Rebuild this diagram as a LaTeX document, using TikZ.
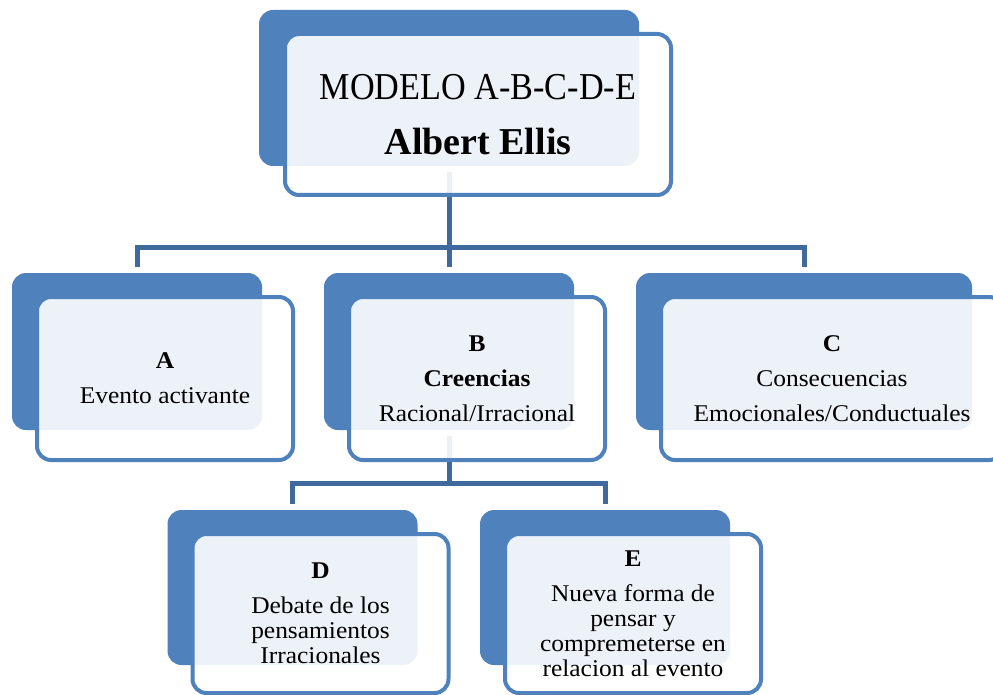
\documentclass[tikz,border=0pt]{standalone}
\usepackage{fontspec}
\setmainfont[FakeStretch=1.06]{Liberation Serif}
\newfontfamily\titlefont[FakeStretch=0.9]{Liberation Serif}
\newfontfamily\namefont{Liberation Serif}
\usepackage{tikz}
\usetikzlibrary{positioning}
\definecolor{boxblue}{RGB}{79,129,189}
\definecolor{lineblue}{RGB}{64,106,158}
\tikzstyle{backbox}  = [fill=boxblue, rounded corners=14pt, minimum width=250pt, minimum height=157pt, inner sep=0pt]
\tikzstyle{frontbox} = [draw=boxblue, line width=4pt, fill=white, fill opacity=0.9, text opacity=1, rounded corners=14pt, minimum width=256pt, minimum height=163pt, align=center, inner sep=0pt, font=\fontsize{24}{25}\selectfont]
\tikzstyle{conn}     = [draw=lineblue, line width=5pt, shorten <=6pt, shorten >=6pt]

\begin{document}
\begin{tikzpicture}[x=1pt,y=-1pt]
		\useasboundingbox (0,0) rectangle (993,695);

		% cajas de fondo
		\node[backbox, minimum width=380pt, minimum height=156pt] (topb) at (449,88) {};
		\node[backbox] (Ab) at (137,351.5) {};
		\node[backbox] (Bb) at (449,351.5) {};
		\node[backbox, minimum width=336pt] (Cb) at (804,351.5) {};
		\node[backbox, minimum height=155pt] (Db) at (292.5,587.5) {};
		\node[backbox, minimum height=155pt] (Eb) at (605,587.5) {};

		% conectores
		\coordinate (bus1) at (449,247);
		\coordinate (bus2) at (449,483);
		\draw[conn] (topb.south) -- (Bb.north);
		\draw[conn] (Ab.north) |- (bus1) -| (Cb.north);
		\draw[conn] (Db.north) |- (bus2) -| (Eb.north);
		\draw[conn, shorten <=0pt] (bus2) -- (Bb.south);

		% cajas de texto
		\node[frontbox, minimum width=386pt, minimum height=161pt, font=\titlefont\fontsize{38}{55}\selectfont] (topf) at (478,114.5) {MODELO A-B-C-D-E\\{\namefont\fontsize{38}{55}\selectfont\bfseries Albert Ellis}};
		\node[frontbox] (Af) at (165,378.5) {\textbf{A}\\[10pt]Evento activante};
		\node[frontbox] (Bf) at (477,378.5) {\textbf{B}\\[10pt]\textbf{Creencias}\\[10pt]Racional/Irracional};
		\node[frontbox, minimum width=342pt] (Cf) at (832,378.5) {\textbf{C}\\[10pt]Consecuencias\\[10pt]Emocionales/Conductuales};
		\node[frontbox, minimum height=159pt] (Df) at (320.5,613.5) {\textbf{D}\\[10pt]Debate de los\\pensamientos\\Irracionales};
		\node[frontbox, minimum height=159pt] (Ef) at (633,613.5) {\textbf{E}\\[10pt]Nueva forma de\\pensar y\\compremeterse en\\relacion al evento};
	\end{tikzpicture}
\end{document}
